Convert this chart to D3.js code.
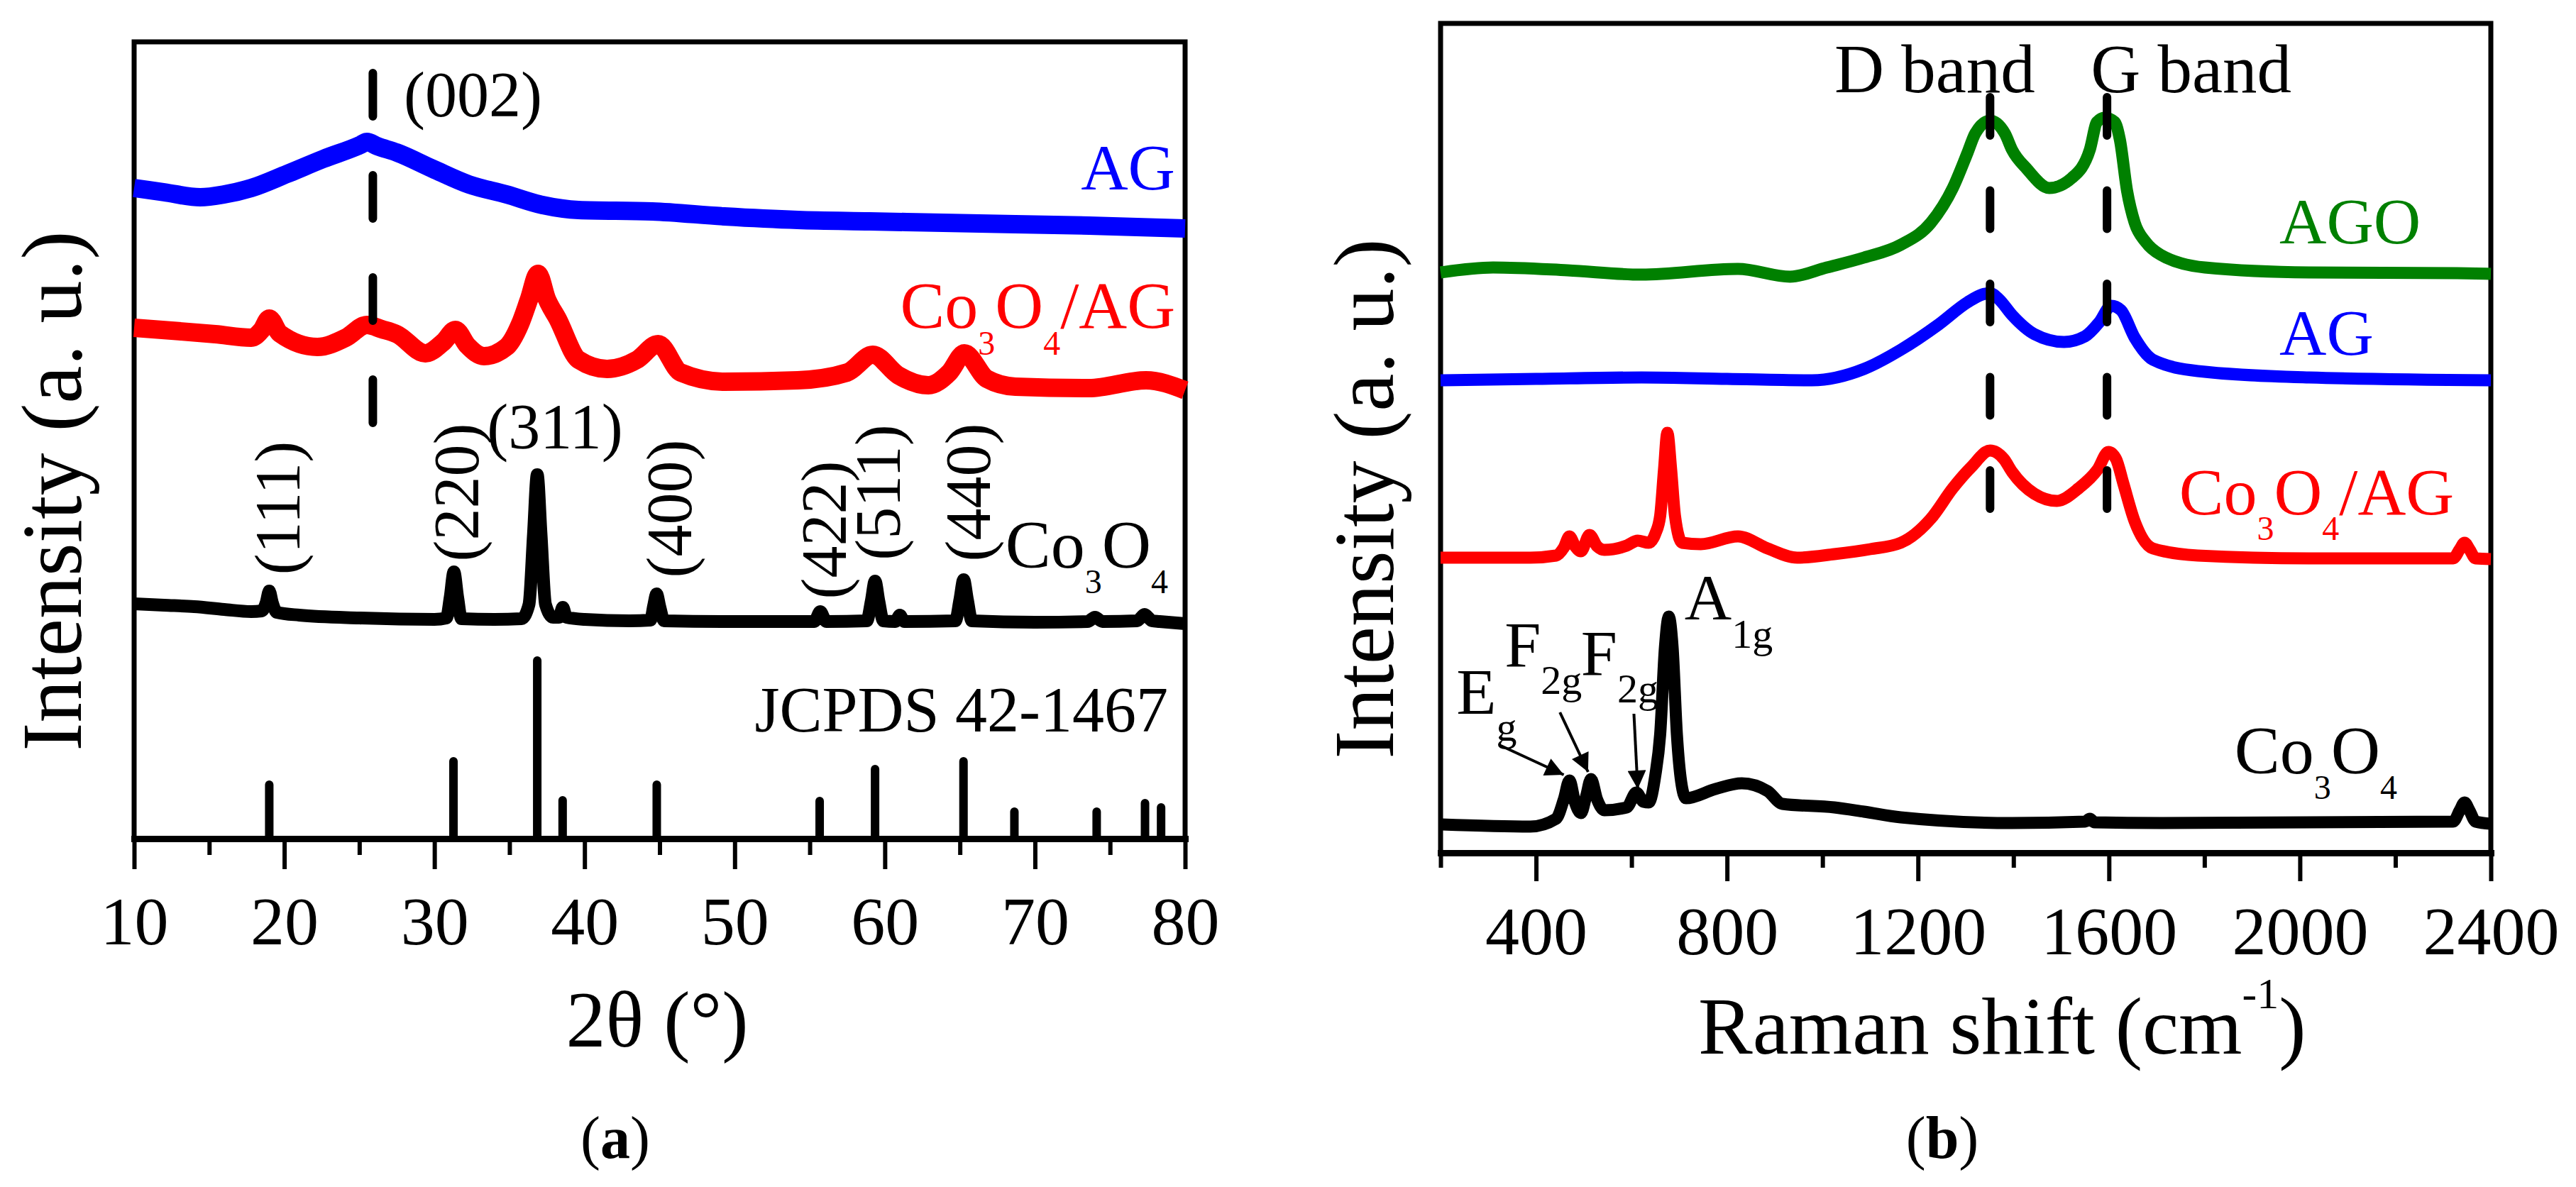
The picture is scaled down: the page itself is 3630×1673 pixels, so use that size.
<!DOCTYPE html>
<html><head><meta charset="utf-8">
<script src="https://cdn.jsdelivr.net/npm/d3@7"></script>
<style>body{margin:0;background:#fff} text{font-family:"Liberation Serif","Times New Roman",serif}</style>
</head><body><svg id="c" width="3630" height="1673"></svg>
<script>
// ---------- DATA: (a) XRD, 2theta (deg) vs intensity (a.u., offset traces) ----------
const xrdTicksMajor = [10,20,30,40,50,60,70,80];
const xrdTicksMinor = [15,25,35,45,55,65,75];
const xrdAG = [[10,917],[12,911],[14.4,904],[16,908],[17.8,917],[20.2,937],[22.6,958],[25.1,978],[25.5,982],[26.2,976],[27.5,967],[29.9,944],[32.3,922],[34.8,908],[37.2,893],[39.6,886],[44.5,884],[49.3,877],[54.2,872],[59,870],[63.9,868],[68.7,866],[73.6,864],[80,860]];
const xrdCoAG = [[10,720],[12.5,716],[15.4,711],[17.8,706],[18.5,717],[19.0,733],[19.7,712],[22.2,693],[24.1,706],[25.5,724],[26.5,718],[27.5,711],[29.4,684],[30.6,700],[31.4,717],[32.2,695],[33.3,680],[34.8,693],[35.7,725],[36.3,760],[36.9,796],[37.5,760],[38.2,733],[39.6,675],[41.5,662],[43.5,675],[44.9,697],[46.4,657],[49.3,644],[54.2,646],[57.5,657],[59.2,682],[60.9,653],[62.9,639],[64.3,657],[65.3,684],[66.8,648],[68.7,637],[73.6,635],[77.4,646],[80,632]];
const xrdCo3O4 = [[10,331],[12,329],[14,327],[16,323],[17.8,320],[18.5,321],[18.8,333],[19.0,349],[19.2,333],[19.5,319],[21,315],[25,311],[30,309],[30.8,311],[31.05,340],[31.3,376],[31.55,340],[31.8,310],[34,309],[35.8,310],[36.3,330],[36.6,430],[36.85,513],[37.1,430],[37.4,330],[37.9,312],[38.3,312],[38.55,326],[38.8,312],[40,309],[43,307],[44.4,308],[44.6,328],[44.8,345],[45.0,328],[45.3,307],[50,306],[55.3,306],[55.7,320],[56.1,306],[58.8,307],[59.1,335],[59.35,363],[59.6,335],[59.9,307],[60.7,306],[61.0,315],[61.3,306],[64.7,307],[65.0,337],[65.25,365],[65.5,337],[65.8,307],[70,305],[73.5,306],[74.0,312],[74.5,306],[76.8,307],[77.3,316],[77.8,307],[78.3,306],[80,303]];
const jcpds = [[19.0,76],[31.27,109],[36.85,251],[38.54,54],[44.81,76],[55.66,53],[59.35,98],[65.24,109],[68.63,38],[74.11,38],[77.33,50],[78.4,44]];
const xrdMillerRot = [['(111)',19.6,466],['(220)',31.5,488],['(400)',45.7,465],['(422)',56.0,435],['(511)',59.6,488],['(440)',65.6,488]];
const xrdMarker = [25.9, 1079, 574]; // (002) position, dash top & bottom in a.u.

// ---------- DATA: (b) Raman, shift (cm-1) vs intensity (a.u., offset traces) ----------
const ramTicksMajor = [400,800,1200,1600,2000,2400];
const ramTicksMinor = [200,600,1000,1400,1800,2200];
const ramAGO = [[200,818],[310,825],[466,821],[621,815],[823,823],[932,812],[1009,825],[1087,839],[1164,857],[1227,888],[1273,937],[1304,987],[1320,1014],[1351,1032],[1382,1014],[1397,991],[1428,964],[1475,937],[1522,951],[1560,991],[1575,1030],[1591,1036],[1612,1030],[1623,1005],[1638,933],[1654,888],[1677,861],[1708,843],[1801,825],[2019,818],[2329,817],[2400,816]];
const ramAG = [[200,666],[400,668],[621,670],[800,668],[978,666],[1087,682],[1164,709],[1242,744],[1304,776],[1335,787],[1351,789],[1370,780],[1397,758],[1444,731],[1506,720],[1550,728],[1580,748],[1605,771],[1625,765],[1654,726],[1692,695],[1786,679],[2019,670],[2400,666]];
const ramCoAG = [[200,416],[388,416],[442,419],[458,430],[470,446],[482,432],[494,425],[512,448],[528,432],[543,427],[590,433],[613,440],[636,437],[650,450],[660,475],[668,540],[675,592],[683,540],[691,475],[706,437],[745,435],[823,446],[885,429],[947,416],[1025,421],[1100,428],[1164,437],[1227,471],[1273,514],[1312,544],[1351,567],[1380,555],[1397,537],[1444,506],[1491,496],[1537,514],[1576,540],[1599,565],[1615,555],[1630,521],[1654,467],[1692,429],[1786,419],[2019,415],[2321,415],[2335,428],[2345,437],[2355,428],[2368,415],[2400,414]];
const ramCo3O4 = [[200,40],[388,37],[442,48],[458,75],[470,102],[482,70],[494,56],[505,80],[515,104],[528,75],[543,60],[590,64],[610,85],[625,72],[636,71],[650,110],[660,167],[670,290],[678,333],[686,290],[695,167],[704,100],[714,77],[776,90],[831,98],[885,87],[916,69],[1025,64],[1087,58],[1164,50],[1397,42],[1550,44],[1560,48],[1570,43],[1708,42],[2321,44],[2335,60],[2345,71],[2355,60],[2368,44],[2400,41]];
const ramMarkers = [1351, 1596];
const ramMarkerSpan = [1065, 469];
const ramArrows = [[323,152,458,110],[450,198,509,114],[605,196,613,90]];

// ---------- DRAW ----------
const svg = d3.select('#c');
const FONT = '"Liberation Serif","Times New Roman",serif';
svg.append('defs').append('marker').attr('id','ah').attr('viewBox','0 0 10 10')
  .attr('refX',10).attr('refY',5).attr('markerWidth',40).attr('markerHeight',26)
  .attr('markerUnits','userSpaceOnUse').attr('orient','auto')
  .append('path').attr('d','M0,0L10,5L0,10Z').attr('fill','#000');

function panel(cfg){
  const g = svg.append('g');
  const x = d3.scaleLinear().domain(cfg.xd).range([cfg.x0,cfg.x1]);
  const y = d3.scaleLinear().domain([0,cfg.y1-cfg.y0]).range([cfg.y1,cfg.y0]);
  g.append('path').attr('d',`M${cfg.x0},${cfg.y1}V${cfg.y0}H${cfg.x1}V${cfg.y1}`)
    .attr('fill','none').attr('stroke','#000').attr('stroke-width',7).attr('stroke-linecap','square');
  const gm = g.append('g').attr('transform',`translate(0,${cfg.y1})`)
    .call(d3.axisBottom(x).tickValues(cfg.minor).tickSize(cfg.minLen).tickFormat(''));
  gm.select('.domain').remove();
  gm.selectAll('.tick line').attr('stroke-width',6);
  const ga = g.append('g').attr('transform',`translate(0,${cfg.y1})`)
    .call(d3.axisBottom(x).tickValues(cfg.major).tickSize(cfg.majLen).tickSizeOuter(0).tickPadding(cfg.pad).tickFormat(d3.format('d')));
  ga.attr('font-size',96).attr('font-family',FONT);
  ga.select('.domain').attr('stroke-width',9).attr('stroke-linecap','square');
  ga.selectAll('.tick line').attr('stroke-width',6);
  ga.selectAll('.tick text').attr('fill','#000');
  return {g,x,y};
}
function txt(g,x,y,size,anchor,color){
  return g.append('text').attr('x',x).attr('y',y).attr('font-size',size).attr('text-anchor',anchor).attr('fill',color||'#000');
}
function chem(t,parts,sub,dy){
  let cur=0;
  parts.forEach(([s,isSub])=>{
    const ts=t.append('tspan').text(s);
    if(isSub&&cur===0){ts.attr('font-size',sub).attr('dy',dy);cur=1;}
    else if(!isSub&&cur===1){ts.attr('dy',-dy);cur=0;}
  });
}

// ===== Panel (a) =====
const A = panel({xd:[10,80],x0:189,x1:1670,y0:59,y1:1182,major:xrdTicksMajor,minor:xrdTicksMinor,majLen:43,minLen:23,pad:38});
const lineA = d3.line().x(d=>A.x(d[0])).y(d=>A.y(d[1])).curve(d3.curveMonotoneX);
[[xrdAG,'#0000ff',26],[xrdCoAG,'#ff0000',26],[xrdCo3O4,'#000',18]].forEach(([d,c,w])=>{
  A.g.append('path').attr('d',lineA(d)).attr('fill','none').attr('stroke',c).attr('stroke-width',w).attr('stroke-linejoin','round');
});
A.g.selectAll('line.stick').data(jcpds).enter().append('line').attr('class','stick')
  .attr('x1',d=>A.x(d[0])).attr('x2',d=>A.x(d[0])).attr('y1',A.y(0)-4).attr('y2',d=>A.y(d[1]))
  .attr('stroke','#000').attr('stroke-width',12).attr('stroke-linecap','round');
A.g.append('line').attr('x1',A.x(xrdMarker[0])).attr('x2',A.x(xrdMarker[0]))
  .attr('y1',A.y(xrdMarker[1])).attr('y2',A.y(xrdMarker[2]))
  .attr('stroke','#000').attr('stroke-width',12).attr('stroke-linecap','round').attr('stroke-dasharray','61,83');
txt(A.g,A.x(27.96),A.y(1018),90,'start').text('(002)');
txt(A.g,A.x(79.34),A.y(915),92,'end','#0000ff').text('AG');
chem(txt(A.g,A.x(79.34),A.y(720),94,'end','#ff0000'),[['Co',0],['3',1],['O',0],['4',1],['/AG',0]],48,38);
chem(txt(A.g,A.x(78.87),A.y(382),96,'end'),[['Co',0],['3',1],['O',0],['4',1]],48,36);
txt(A.g,A.x(78.87),A.y(151),90,'end').text('JCPDS 42-1467');
txt(A.g,A.x(38.03),A.y(550),90,'middle').text('(311)');
xrdMillerRot.forEach(([s,xv,yv])=>{
  A.g.append('text').attr('transform',`translate(${A.x(xv)+30},${A.y(yv)}) rotate(-90)`)
    .attr('font-size',90).attr('text-anchor','middle').text(s);
});
txt(svg,926,1475,112,'middle').text('2θ (°)');
svg.append('text').attr('transform','translate(114,692) rotate(-90)').attr('font-size',120).attr('text-anchor','middle').text('Intensity (a. u.)');
{const t=txt(svg,867,1632,84,'middle');t.append('tspan').text('(');t.append('tspan').attr('font-weight','bold').text('a');t.append('tspan').text(')');}

// ===== Panel (b) =====
const B = panel({xd:[200,2400],x0:2030,x1:3510,y0:33,y1:1202,major:ramTicksMajor,minor:ramTicksMinor,majLen:40,minLen:21,pad:35});
const lineB = d3.line().x(d=>B.x(d[0])).y(d=>B.y(d[1])).curve(d3.curveMonotoneX);
[[ramAGO,'#008000',17],[ramAG,'#0000ff',17],[ramCoAG,'#ff0000',17],[ramCo3O4,'#000',17]].forEach(([d,c,w])=>{
  B.g.append('path').attr('d',lineB(d)).attr('fill','none').attr('stroke',c).attr('stroke-width',w).attr('stroke-linejoin','round');
});
ramMarkers.forEach(m=>{
  B.g.append('line').attr('x1',B.x(m)).attr('x2',B.x(m)).attr('y1',B.y(ramMarkerSpan[0])).attr('y2',B.y(ramMarkerSpan[1]))
    .attr('stroke','#000').attr('stroke-width',12).attr('stroke-linecap','round').attr('stroke-dasharray','54,77.5');
});
ramArrows.forEach(([a,b,c,d])=>{
  B.g.append('line').attr('x1',B.x(a)).attr('y1',B.y(b)).attr('x2',B.x(c)).attr('y2',B.y(d))
    .attr('stroke','#000').attr('stroke-width',4).attr('marker-end','url(#ah)');
});
txt(B.g,B.x(1025),B.y(1072),97,'start').text('D band');
txt(B.g,B.x(1562),B.y(1072),97,'start').text('G band');
txt(B.g,B.x(1957),B.y(859),92,'start','#008000').text('AGO');
txt(B.g,B.x(1957),B.y(702),92,'start','#0000ff').text('AG');
chem(txt(B.g,B.x(1747),B.y(477),94,'start','#ff0000'),[['Co',0],['3',1],['O',0],['4',1],['/AG',0]],48,36);
chem(txt(B.g,B.x(1863),B.y(112),96,'start'),[['Co',0],['3',1],['O',0],['4',1]],48,36);
chem(txt(B.g,B.x(233),B.y(196),92,'start'),[['E',0],['g',1]],58,38);
chem(txt(B.g,B.x(334),B.y(262),92,'start'),[['F',0],['2g',1]],58,38);
chem(txt(B.g,B.x(494),B.y(250),92,'start'),[['F',0],['2g',1]],58,38);
chem(txt(B.g,B.x(711),B.y(329),92,'start'),[['A',0],['1g',1]],58,40);
{const t=txt(svg,2393,1485,115,'start');t.append('tspan').text('Raman shift (cm');t.append('tspan').attr('font-size',62).attr('dy',-64).text('-1');t.append('tspan').attr('dy',64).text(')');}
svg.append('text').attr('transform','translate(1963,703) rotate(-90)').attr('font-size',120).attr('text-anchor','middle').text('Intensity (a. u.)');
{const t=txt(svg,2737,1632,84,'middle');t.append('tspan').text('(');t.append('tspan').attr('font-weight','bold').text('b');t.append('tspan').text(')');}
</script></body></html>
